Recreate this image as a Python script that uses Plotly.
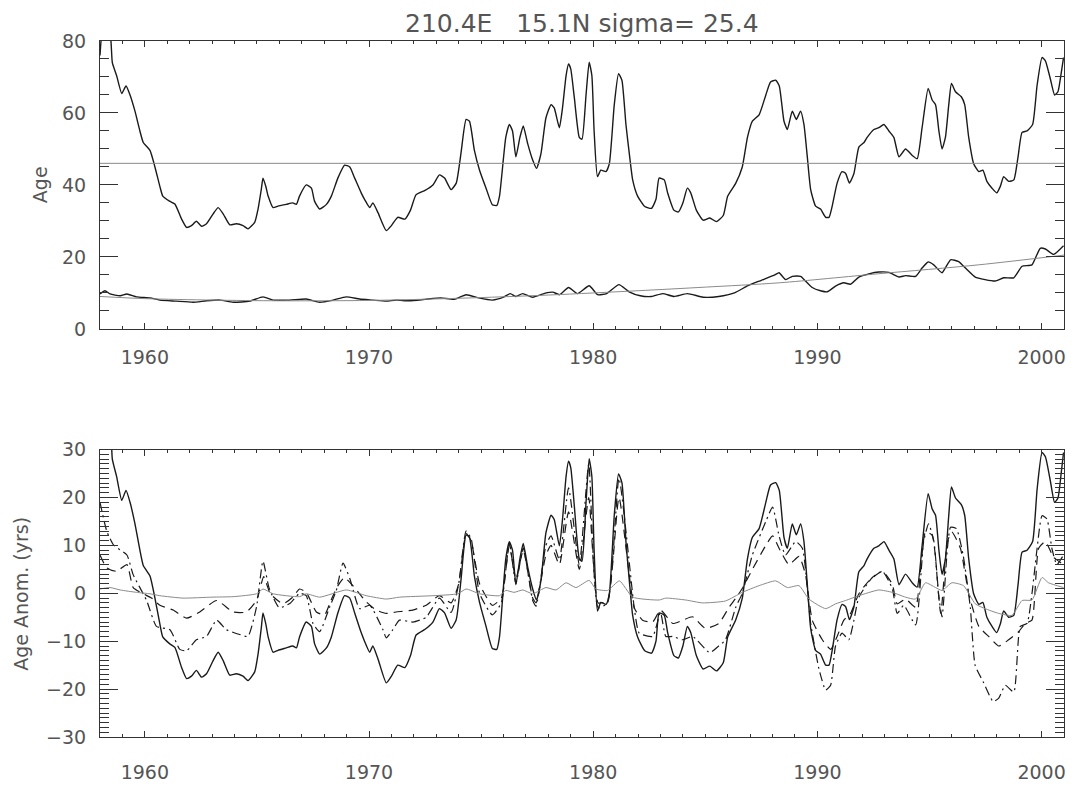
import plotly.graph_objects as go

# ---------------- data ----------------
years_age = [1958.00,1958.08,1958.20,1958.45,1958.55,1958.74,1958.97,1959.16,1959.34,1959.56,1959.78,1959.93,
    1960.23,1960.45,1960.67,1960.80,1961.10,1961.34,1961.64,1961.86,1962.08,1962.30,1962.53,1962.75,1963.04,
    1963.27,1963.50,1963.79,1964.08,1964.38,1964.60,1964.90,1965.05,1965.20,1965.27,1965.40,1965.50,1965.72,
    1965.94,1966.31,1966.60,1966.76,1966.90,1967.20,1967.43,1967.57,1967.80,1968.10,1968.32,1968.61,1968.91,
    1969.14,1969.36,1969.65,1969.80,1970.03,1970.17,1970.40,1970.77,1971.00,1971.28,1971.60,1971.85,1972.10,
    1972.50,1972.85,1973.14,1973.37,1973.66,1973.89,1974.10,1974.33,1974.48,1974.70,1974.93,1975.22,1975.50,
    1975.70,1975.82,1976.10,1976.26,1976.40,1976.55,1976.73,1976.88,1977.08,1977.30,1977.47,1977.67,1977.89,
    1978.12,1978.26,1978.49,1978.63,1978.79,1978.90,1979.00,1979.16,1979.38,1979.50,1979.68,1979.82,1979.94,
    1980.04,1980.19,1980.34,1980.57,1980.72,1980.94,1981.13,1981.28,1981.46,1981.61,1981.76,1981.98,1982.30,
    1982.60,1982.80,1982.94,1983.17,1983.32,1983.60,1983.80,1984.00,1984.20,1984.35,1984.60,1984.90,1985.20,
    1985.50,1985.80,1986.00,1986.36,1986.65,1986.88,1987.10,1987.40,1987.70,1987.91,1988.14,1988.30,1988.51,
    1988.66,1988.88,1989.06,1989.25,1989.40,1989.55,1989.70,1989.92,1990.14,1990.37,1990.52,1990.66,1990.88,
    1991.10,1991.26,1991.43,1991.63,1991.85,1992.08,1992.22,1992.52,1992.74,1992.97,1993.19,1993.41,1993.64,
    1993.93,1994.23,1994.45,1994.67,1994.94,1995.12,1995.27,1995.42,1995.56,1995.71,1995.86,1995.98,1996.16,
    1996.42,1996.57,1996.75,1996.97,1997.20,1997.38,1997.56,1997.79,1998.00,1998.16,1998.31,1998.53,1998.76,
    1998.95,1999.13,1999.35,1999.60,1999.80,2000.02,2000.17,2000.39,2000.58,2000.73,2000.88,2000.98]

age = [76,82,84,82,74,70.4,65.4,67.5,65,60.5,55,51.8,
    49.6,45,39.6,36.9,35.5,34.7,30.5,28.2,28.7,29.9,28.5,29.2,31.9,
    33.7,31.9,28.9,29.2,28.7,27.8,29.6,33.3,39,41.9,39.5,36.9,33.7,
    34.1,34.6,35,34.6,36.9,40,39.1,35.5,33.3,34.6,36.9,41.9,45.5,
    45,41.9,37.8,36,33.7,35,32.3,27.3,28.7,31,30.5,33,37.3,
    38.5,40,42.8,41.9,38.7,40.5,48.7,58.2,57.7,49.6,44.1,39.1,34.5,
    34.3,36.9,53.2,56.8,55,47.8,53.2,56.4,51.4,46.9,44.6,48.7,58.6,
    62.3,61.4,55.9,61.4,70.4,73.6,72.2,64.1,53.2,52.7,65,74.1,70.4,
    55,42.3,44.1,43.7,45.9,62.3,70.9,69.1,56.8,48.7,41.4,36.9,34,
    33.5,36,41.9,41.4,37.8,33,32.5,35,39.1,37.8,33,30.2,30.8,
    29.8,31.5,36.9,40.5,45,53.2,57.7,59.5,65,68.6,69.1,67.5,57.7,
    55.4,60.5,58.2,60.5,56.8,47.8,38.7,34.1,33.3,31,31,34.1,40.5,
    43.7,43.2,40.5,43.2,50.5,51.8,53.2,55.4,55.9,56.8,55,53.2,47.8,
    50,48.2,47.3,55.9,66.8,63.6,62.3,55,50,53.2,62.3,68.2,65.9,
    64.5,62.3,53.2,45.9,43.7,44.1,41,39.1,37.8,39.6,42.3,41,41.4,
    47.8,54.6,55,56.8,67.7,75.4,74.5,69.5,65,65.9,71.3,75.4]

age_anom = [30,36,38,36,28,24.4,19.4,21.5,19,14.5,9,5.8,
    3.6,-1,-6.4,-9.1,-10.5,-11.3,-15.5,-17.8,-17.3,-16.1,-17.5,-16.8,-14.1,
    -12.3,-14.1,-17.1,-16.8,-17.3,-18.2,-16.4,-12.7,-7,-4.1,-6.5,-9.1,-12.3,
    -11.9,-11.4,-11,-11.4,-9.1,-6,-6.9,-10.5,-12.7,-11.4,-9.1,-4.1,-0.5,
    -1,-4.1,-8.2,-10,-12.3,-11,-13.7,-18.7,-17.3,-15,-15.5,-13,-8.7,
    -7.5,-6,-3.2,-4.1,-7.3,-5.5,2.7,12.2,11.7,3.6,-1.9,-6.9,-11.5,
    -11.7,-9.1,7.2,10.8,9,1.8,7.2,10.4,5.4,0.9,-1.4,2.7,12.6,
    16.3,15.4,9.9,15.4,24.4,27.6,26.2,18.1,7.2,6.7,19,28.1,24.4,
    9,-3.7,-1.9,-2.3,-0.1,16.3,24.9,23.1,10.8,2.7,-4.6,-9.1,-12,
    -12.5,-10,-4.1,-4.6,-8.2,-13,-13.5,-11,-6.9,-8.2,-13,-15.8,-15.2,
    -16.2,-14.5,-9.1,-5.5,-1,7.2,11.7,13.5,19,22.6,23.1,21.5,11.7,
    9.4,14.5,12.2,14.5,10.8,1.8,-7.3,-11.9,-12.7,-15,-15,-11.9,-5.5,
    -2.3,-2.8,-5.5,-2.8,4.5,5.8,7.2,9.4,9.9,10.8,9,7.2,1.8,
    4,2.2,1.3,9.9,20.8,17.6,16.3,9,4,7.2,16.3,22.2,19.9,
    18.5,16.3,7.2,-0.1,-2.3,-1.9,-5,-6.9,-8.2,-6.4,-3.7,-5,-4.6,
    1.8,8.6,9,10.8,21.7,29.4,28.5,23.5,19,19.9,25.3,29.4]

mean_age = 46.0

years_low = [1958.0,1958.22,1958.45,1958.9,1959.2,1959.63,1960.23,1960.67,1961.4,1962.15,1962.75,1963.35,
    1963.94,1964.68,1965.27,1965.72,1966.46,1967.2,1967.8,1968.4,1968.98,1969.58,1970.17,1970.77,1971.2,
    1971.8,1972.5,1973.2,1973.8,1974.33,1974.9,1975.5,1976.0,1976.3,1976.55,1976.85,1977.3,1977.9,1978.2,
    1978.5,1978.9,1979.3,1979.82,1980.2,1980.6,1981.15,1981.6,1982.1,1982.6,1983.1,1983.6,1984.2,1984.9,
    1985.6,1986.3,1986.9,1987.5,1988.1,1988.29,1988.58,1988.88,1989.25,1989.47,1989.77,1990.14,1990.44,
    1990.81,1991.18,1991.48,1991.85,1992.3,1992.74,1993.19,1993.64,1993.93,1994.38,1994.67,1994.94,1995.19,
    1995.56,1995.94,1996.3,1996.67,1997.04,1997.48,1997.93,1998.31,1998.76,1999.13,1999.57,1999.94,2000.17,
    2000.54,2000.98]
age_low = [9.7,10.6,9.7,9.2,9.7,8.9,8.6,8.0,7.7,7.4,7.8,8.0,
    7.4,7.7,8.9,8.0,8.0,8.3,7.4,8.0,8.9,8.3,8.0,7.7,8.0,
    7.8,8.2,8.6,8.2,9.5,8.6,8.0,8.8,9.8,9.0,9.8,8.8,10.0,10.2,
    9.5,11.5,9.8,12.0,9.5,9.8,12.3,10.3,9.2,9.0,9.8,9.0,9.8,8.8,
    9.0,10.0,12.0,13.5,15.0,15.6,13.7,14.6,14.6,13.3,11.5,10.6,10.3,
    11.9,12.8,12.4,14.4,15.3,15.8,15.7,14.4,14.8,14.6,16.9,18.6,17.8,
    15.6,19.2,18.7,16.5,14.4,13.7,13.3,14.2,14.2,17.4,17.8,22.4,22.2,
    20.7,23.1]

years_trend = [1958, 1960, 1963, 1966, 1970, 1974, 1978, 1982, 1985, 1988.3, 1992.7, 1997.2, 2001]
age_trend = [9.0, 8.4, 8.0, 7.8, 7.9, 8.5, 9.4, 10.6, 11.6, 12.8, 15.3, 17.8, 20.5]

years_low_anom = [1958.0,1958.45,1958.9,1959.63,1960.23,1960.67,1961.7,1963.0,1963.94,1964.98,1965.27,1965.72,
    1966.9,1967.2,1967.8,1968.99,1969.88,1970.77,1971.36,1972.85,1973.96,1974.33,1974.93,1975.82,1976.1,
    1976.47,1976.86,1977.3,1977.89,1978.34,1978.79,1979.23,1979.82,1980.12,1980.64,1981.17,1981.76,1982.94,
    1983.24,1984.13,1984.87,1985.9,1986.65,1987.4,1988.14,1988.66,1989.18,1989.62,1990.37,1990.81,1991.26,
    1991.85,1992.74,1993.34,1993.93,1994.38,1994.82,1995.27,1995.56,1996.0,1996.52,1997.04,1997.48,1998.09,
    1998.68,1999.13,1999.57,2000.02,2000.31,2000.98]
low_anom = [0.9,1.2,0.7,0.2,-0.1,-0.5,-1.0,-0.8,-0.7,-0.1,0.9,-0.1,
    -0.7,-0.1,-0.8,0.7,-0.5,-1.2,-0.8,-0.5,-0.1,0.9,-0.1,-0.5,0.6,
    0.2,0.7,-0.1,1.2,0.7,2.2,1.2,2.7,0.9,0.6,2.6,-0.8,-1.4,
    -1.0,-1.4,-2.0,-1.6,0.2,1.6,2.6,1.2,1.6,-1.2,-3.2,-2.2,-1.5,
    -0.5,0.7,0.2,-0.8,-1.2,2.2,1.2,0.6,2.2,1.6,-2.2,-3.2,-4.2,
    -4.6,-1.5,-1.4,3.3,2.2,1.2]

years_dash = [1958.0,1958.3,1958.74,1959.2,1959.48,1959.93,1960.3,1960.67,1961.26,1961.86,1962.45,1963.2,
    1963.94,1964.53,1964.98,1965.12,1965.3,1965.6,1966.16,1966.6,1966.9,1967.2,1967.65,1968.02,1968.3,
    1968.6,1968.9,1969.2,1969.58,1969.88,1970.32,1970.77,1971.2,1971.95,1972.55,1973.14,1973.66,1974.0,
    1974.33,1974.55,1974.93,1975.5,1975.9,1976.26,1976.55,1976.88,1977.3,1977.45,1977.89,1978.12,1978.49,
    1978.9,1979.38,1979.8,1980.22,1980.64,1981.15,1981.83,1982.2,1982.65,1983.0,1983.55,1984.0,1984.43,
    1985.0,1985.6,1986.06,1986.36,1986.65,1987.1,1987.7,1988.0,1988.29,1988.73,1989.18,1989.47,1989.77,
    1990.22,1990.59,1990.88,1991.18,1991.48,1991.85,1992.3,1992.9,1993.34,1993.56,1993.93,1994.38,1994.82,
    1995.12,1995.5,1995.8,1996.0,1996.38,1996.75,1997.2,1997.64,1998.09,1998.53,1998.98,1999.27,1999.57,
    1999.87,2000.17,2000.54,2000.98]
anom_dash = [8,5.3,4.6,6.0,1.2,-0.1,-1.0,-2.5,-3.5,-5.2,-3.9,-1.5,
    -3.9,-3.9,-1.5,0.6,3.5,-0.1,-2.2,-0.8,0.9,0.2,-3.9,-4.5,-1.5,
    1.5,3.3,2,-0.1,-1.8,-3.5,-4.2,-3.9,-3.5,-2.5,-0.5,-2.0,2,
    12.5,11,2,-2.5,-1.0,10,3,9,-1.0,-2.0,8,10,6,
    17,5,20,-2,-1.5,20,-3,-5.6,-6,-3.5,-6.3,-5.6,-4.9,
    -7.3,-6.3,-2.9,-1.0,1.0,5,10,12,9.4,6.0,7.7,3.9,-5.6,
    -9.7,-11.7,-9.0,-5.6,-4.2,-0.1,2.6,4.6,1.9,-2.2,-1.2,-2.9,12.8,
    12.1,-4.2,10.8,12.8,9.4,-0.1,-6.9,-9.0,-11.0,-9.7,-8.0,-6.3,-5.6,
    9.4,10.8,7.5,6.0]

years_dashdot = [1958.0,1958.3,1958.6,1959.2,1959.48,1960.08,1960.52,1961.12,1961.56,1961.86,1962.3,1962.75,
    1963.2,1963.64,1964.23,1964.6,1964.98,1965.27,1965.55,1966.0,1966.5,1966.9,1967.2,1967.5,1967.8,
    1968.24,1968.54,1968.84,1969.15,1969.58,1970.03,1970.62,1970.77,1971.06,1971.36,1971.95,1972.55,1973.14,
    1973.66,1974.0,1974.33,1974.55,1974.93,1975.5,1975.9,1976.26,1976.55,1976.88,1977.3,1977.45,1977.89,
    1978.12,1978.49,1978.9,1979.38,1979.8,1980.22,1980.64,1981.15,1981.83,1982.05,1982.65,1983.0,1983.24,
    1983.55,1984.0,1984.43,1985.2,1985.6,1985.9,1986.36,1986.65,1987.1,1987.7,1988.0,1988.29,1988.58,
    1989.03,1989.33,1989.7,1990.07,1990.37,1990.59,1990.81,1991.1,1991.4,1991.63,1991.85,1992.45,1992.9,
    1993.34,1993.56,1993.85,1994.38,1994.74,1994.96,1995.2,1995.4,1995.56,1995.8,1995.94,1996.2,1996.5,
    1996.82,1997.04,1997.4,1997.84,1998.09,1998.38,1998.76,1999.05,1999.35,1999.57,1999.8,2000.02,2000.24,
    2000.46,2000.68,2000.98]
anom_dashdot = [19,13,10.1,8.0,3.9,-1.5,-6.9,-7.6,-11.7,-12.0,-9.7,-9.0,
    -5.6,-7.6,-8.6,-9.0,-2.9,6.7,1,-3,-2,0,-0.5,-6.3,-8.0,
    -2.9,0.6,6.3,3,-3.2,-2.5,-7.6,-9.3,-7.6,-5.6,-6,-5,-1,
    -4,2,13,11.5,0,-4.5,-2,10.5,2,9.5,-1.5,-2.7,10,
    12,7,22,6,27,-3,-2,24,-3,-8.3,-9,-4,-9,
    -9,-9.7,-9,-12.4,-11,-9.7,-2.9,0,8,15,18,12,8.0,
    10.8,9.4,-6.3,-15.8,-20.2,-19.2,-11.0,-8.3,-9.7,-5.6,-0.8,3.3,4.6,
    1,-4.2,-2.5,-6.6,10.8,14.5,10.8,-0.1,-4.9,9.4,13.8,13.5,8,
    -2.9,-15.1,-18.5,-22.6,-21.9,-19.2,-20.6,-6.9,-6.3,-0.1,9.4,16.2,15.5,
    9.4,6.0,8.0]

title_text = "210.4E\u00a0\u00a0\u00a015.1N sigma=\u00a025.4"
x_range = [1958, 2001]
top_range = [0, 80]
bot_range = [-30, 30]

# ---------------- figure ----------------
BLACK = "#1a1a1a"
GRAY = "#8a8a8a"
AX = "#333333"
TXT = "#555555"
FONT = "DejaVu Sans"

fig = go.Figure()
fig.add_trace(go.Scatter(x=years_age, y=age, mode="lines", xaxis="x", yaxis="y",
                         line=dict(color=BLACK, width=1.4, shape="spline", smoothing=0.5)))
fig.add_trace(go.Scatter(x=[x_range[0], x_range[1]], y=[mean_age, mean_age], mode="lines",
                         xaxis="x", yaxis="y", line=dict(color=GRAY, width=1)))
fig.add_trace(go.Scatter(x=years_low, y=age_low, mode="lines", xaxis="x", yaxis="y",
                         line=dict(color=BLACK, width=1.4, shape="spline", smoothing=0.5)))
fig.add_trace(go.Scatter(x=years_trend, y=age_trend, mode="lines", xaxis="x", yaxis="y",
                         line=dict(color=GRAY, width=1, shape="spline", smoothing=0.8)))

fig.add_trace(go.Scatter(x=years_age, y=age_anom, mode="lines", xaxis="x2", yaxis="y2",
                         line=dict(color=BLACK, width=1.4, shape="spline", smoothing=0.5)))
fig.add_trace(go.Scatter(x=years_dash, y=anom_dash, mode="lines", xaxis="x2", yaxis="y2",
                         line=dict(color=BLACK, width=1.2, dash="9px,6px", shape="spline", smoothing=0.5)))
fig.add_trace(go.Scatter(x=years_dashdot, y=anom_dashdot, mode="lines", xaxis="x2", yaxis="y2",
                         line=dict(color=BLACK, width=1.2, dash="9px,4px,2px,4px", shape="spline", smoothing=0.5)))
fig.add_trace(go.Scatter(x=years_low_anom, y=low_anom, mode="lines", xaxis="x2", yaxis="y2",
                         line=dict(color=GRAY, width=1, shape="spline", smoothing=0.5)))

tickfont = dict(family=FONT, size=19, color=TXT)

def xax(anchor, standoff):
    return dict(range=x_range, anchor=anchor, domain=[0, 1], tick0=1960, dtick=10,
                ticks="inside", ticklen=6, tickwidth=1, tickcolor=AX,
                minor=dict(dtick=1, tick0=1958, ticks="inside", ticklen=3, tickwidth=1, tickcolor=AX),
                showline=True, linecolor=AX, linewidth=1, mirror="allticks",
                showgrid=False, zeroline=False, tickfont=tickfont, ticklabelstandoff=standoff,
                ticklabeloverflow="allow")

def yax(anchor, rng, dtick, mdtick, domain):
    return dict(range=rng, anchor=anchor, domain=domain, dtick=dtick,
                ticks="inside", ticklen=18, tickwidth=1, tickcolor=AX,
                minor=dict(dtick=mdtick, ticks="inside", ticklen=9, tickwidth=1, tickcolor=AX),
                showline=True, linecolor=AX, linewidth=1, mirror="allticks",
                showgrid=False, zeroline=False, tickfont=tickfont, ticklabelstandoff=9,
                ticklabeloverflow="allow")

top_dom = [0.5864, 1.0]
bot_dom = [0.0, 0.4129]

fig.update_layout(
    width=1074, height=791,
    margin=dict(l=100, r=8, t=41, b=38),
    paper_bgcolor="white", plot_bgcolor="white",
    showlegend=False,
    font=dict(family=FONT, color=TXT),
    xaxis=xax("y", 11),
    yaxis=yax("x", top_range, 20, 5, top_dom),
    xaxis2=xax("y2", 18),
    yaxis2=yax("x2", bot_range, 10, 1, bot_dom),
    annotations=[
        dict(text=title_text, x=0.5, y=1 + (41 - 23) / 712, xref="paper", yref="paper",
             showarrow=False, xanchor="center", yanchor="middle",
             font=dict(family=FONT, size=25, color=TXT)),
        dict(text="Age", x=-0.062, y=(top_dom[0] + top_dom[1]) / 2, xref="paper", yref="paper",
             textangle=-90, showarrow=False, xanchor="center", yanchor="middle",
             font=dict(family=FONT, size=19, color=TXT)),
        dict(text="Age Anom. (yrs)", x=-0.0815, y=(bot_dom[0] + bot_dom[1]) / 2, xref="paper", yref="paper",
             textangle=-90, showarrow=False, xanchor="center", yanchor="middle",
             font=dict(family=FONT, size=19, color=TXT)),
    ],
)

fig.write_html("out.html", config={"displayModeBar": False},
               post_script="document.body.style.margin='0';document.body.style.overflow='hidden';")
